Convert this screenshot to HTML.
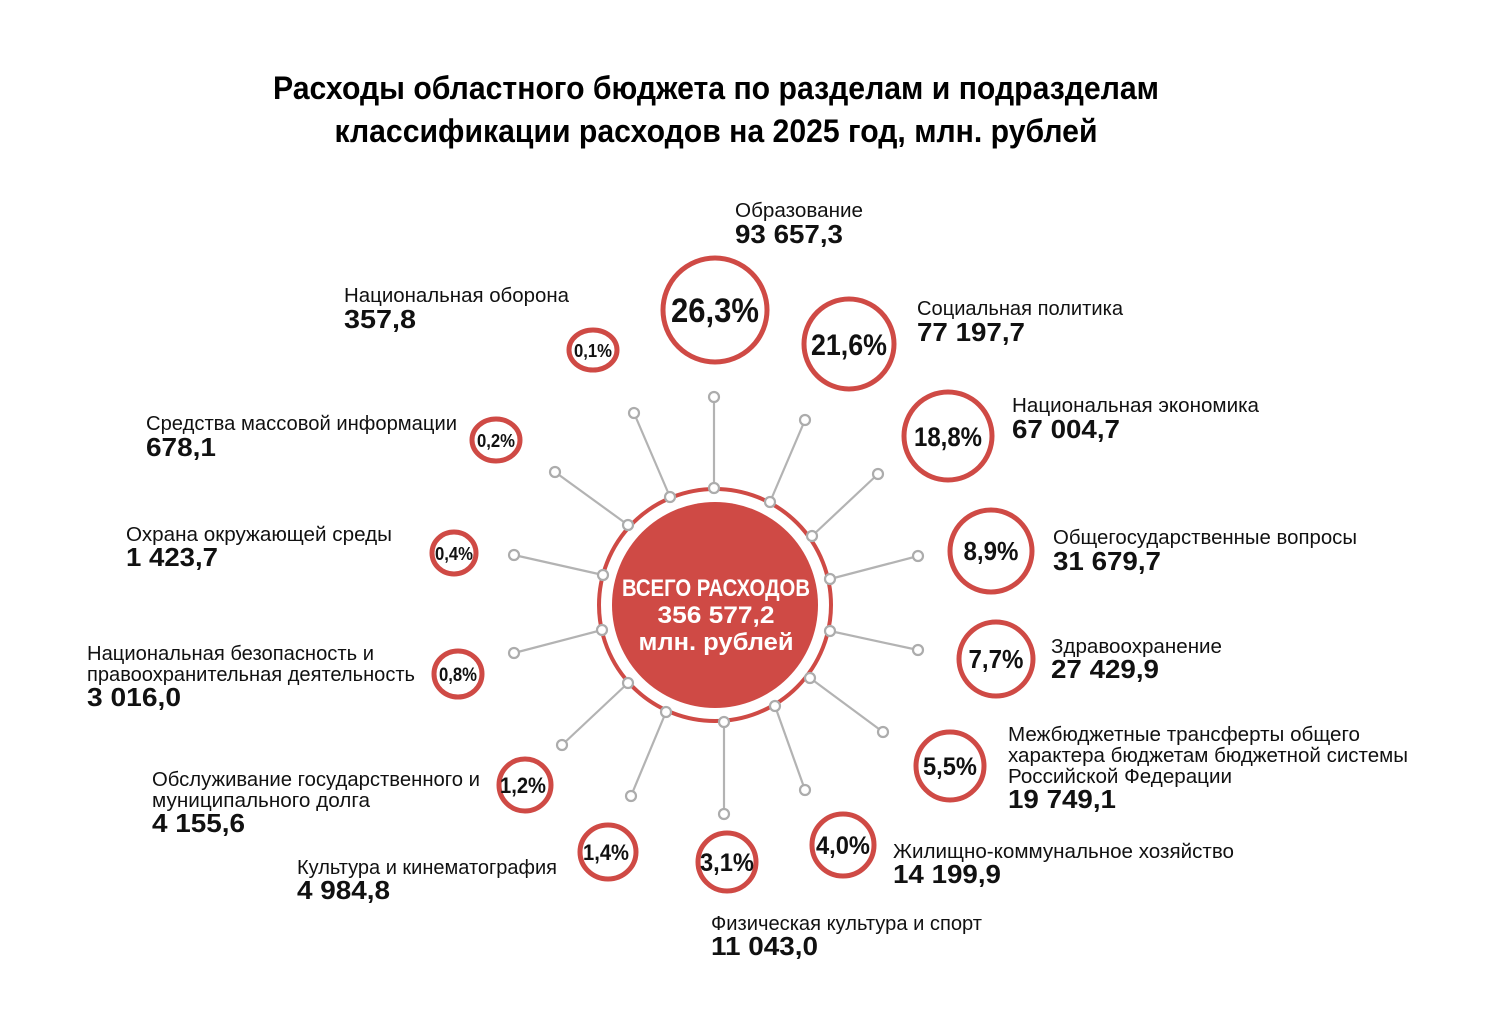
<!DOCTYPE html>
<html><head><meta charset="utf-8"><style>
html,body{margin:0;padding:0;background:#fff;}
svg{display:block;font-family:"Liberation Sans","DejaVu Sans",sans-serif;}
.n{font-size:20px;fill:#111;}
.v{font-size:26px;font-weight:bold;fill:#111;}
.p{font-weight:bold;fill:#111;text-anchor:middle;}
.r{fill:#fff;stroke:#cf4a45;stroke-width:5;}
.l{stroke:#b3b3b3;stroke-width:2.2;}
.d{fill:#fff;stroke:#acacac;stroke-width:2.2;}
</style></head><body>
<svg width="1500" height="1030" viewBox="0 0 1500 1030">
<text x="716" y="99" font-size="32" font-weight="bold" text-anchor="middle" textLength="886" lengthAdjust="spacingAndGlyphs">Расходы областного бюджета по разделам и подразделам</text>
<text x="716" y="142" font-size="32" font-weight="bold" text-anchor="middle" textLength="763" lengthAdjust="spacingAndGlyphs">классификации расходов на 2025 год, млн. рублей</text>

<g>
<line class="l" x1="714" y1="488" x2="714" y2="397"/>
<line class="l" x1="670" y1="497" x2="634" y2="413"/>
<line class="l" x1="628" y1="525" x2="555" y2="472"/>
<line class="l" x1="603" y1="575" x2="514" y2="555"/>
<line class="l" x1="602" y1="630" x2="514" y2="653"/>
<line class="l" x1="628" y1="683" x2="562" y2="745"/>
<line class="l" x1="666" y1="712" x2="631" y2="796"/>
<line class="l" x1="724" y1="722" x2="724" y2="814"/>
<line class="l" x1="775" y1="706" x2="805" y2="790"/>
<line class="l" x1="810" y1="678" x2="883" y2="732"/>
<line class="l" x1="830" y1="631" x2="918" y2="650"/>
<line class="l" x1="830" y1="579" x2="918" y2="556"/>
<line class="l" x1="812" y1="536" x2="878" y2="474"/>
<line class="l" x1="770" y1="502" x2="805" y2="420"/>
</g>
<circle cx="715" cy="605" r="116" fill="#fff" stroke="#cf4a45" stroke-width="4"/>
<circle cx="715" cy="605" r="103" fill="#cf4a45"/>
<g>
<circle class="d" cx="714" cy="488" r="5"/><circle class="d" cx="714" cy="397" r="5"/>
<circle class="d" cx="670" cy="497" r="5"/><circle class="d" cx="634" cy="413" r="5"/>
<circle class="d" cx="628" cy="525" r="5"/><circle class="d" cx="555" cy="472" r="5"/>
<circle class="d" cx="603" cy="575" r="5"/><circle class="d" cx="514" cy="555" r="5"/>
<circle class="d" cx="602" cy="630" r="5"/><circle class="d" cx="514" cy="653" r="5"/>
<circle class="d" cx="628" cy="683" r="5"/><circle class="d" cx="562" cy="745" r="5"/>
<circle class="d" cx="666" cy="712" r="5"/><circle class="d" cx="631" cy="796" r="5"/>
<circle class="d" cx="724" cy="722" r="5"/><circle class="d" cx="724" cy="814" r="5"/>
<circle class="d" cx="775" cy="706" r="5"/><circle class="d" cx="805" cy="790" r="5"/>
<circle class="d" cx="810" cy="678" r="5"/><circle class="d" cx="883" cy="732" r="5"/>
<circle class="d" cx="830" cy="631" r="5"/><circle class="d" cx="918" cy="650" r="5"/>
<circle class="d" cx="830" cy="579" r="5"/><circle class="d" cx="918" cy="556" r="5"/>
<circle class="d" cx="812" cy="536" r="5"/><circle class="d" cx="878" cy="474" r="5"/>
<circle class="d" cx="770" cy="502" r="5"/><circle class="d" cx="805" cy="420" r="5"/>
</g>
<text x="716" y="596" font-size="24" font-weight="bold" fill="#fff" text-anchor="middle" textLength="188" lengthAdjust="spacingAndGlyphs">ВСЕГО РАСХОДОВ</text>
<text x="716" y="623" font-size="24" font-weight="bold" fill="#fff" text-anchor="middle" textLength="117" lengthAdjust="spacingAndGlyphs">356 577,2</text>
<text x="716" y="650" font-size="24" font-weight="bold" fill="#fff" text-anchor="middle" textLength="155" lengthAdjust="spacingAndGlyphs">млн. рублей</text>

<circle class="r" cx="715" cy="310" r="52"/><text class="p" x="715" y="322" font-size="34" textLength="88" lengthAdjust="spacingAndGlyphs">26,3%</text>
<circle class="r" cx="849" cy="344" r="45"/><text class="p" x="849" y="355" font-size="30" textLength="76" lengthAdjust="spacingAndGlyphs">21,6%</text>
<circle class="r" cx="948" cy="436" r="44"/><text class="p" x="948" y="446" font-size="27" textLength="68" lengthAdjust="spacingAndGlyphs">18,8%</text>
<circle class="r" cx="991" cy="551" r="41"/><text class="p" x="991" y="560" font-size="26" textLength="55" lengthAdjust="spacingAndGlyphs">8,9%</text>
<circle class="r" cx="996" cy="659" r="37"/><text class="p" x="996" y="668" font-size="26" textLength="55" lengthAdjust="spacingAndGlyphs">7,7%</text>
<circle class="r" cx="950" cy="766" r="34"/><text class="p" x="950" y="775" font-size="25" textLength="54" lengthAdjust="spacingAndGlyphs">5,5%</text>
<circle class="r" cx="843" cy="845" r="31"/><text class="p" x="843" y="854" font-size="25" textLength="54" lengthAdjust="spacingAndGlyphs">4,0%</text>
<circle class="r" cx="727" cy="862" r="29"/><text class="p" x="727" y="871" font-size="25" textLength="54" lengthAdjust="spacingAndGlyphs">3,1%</text>
<ellipse class="r" cx="608" cy="852" rx="28" ry="27"/><text class="p" x="606" y="860" font-size="22" textLength="46" lengthAdjust="spacingAndGlyphs">1,4%</text>
<ellipse class="r" cx="525" cy="785" rx="26" ry="26"/><text class="p" x="523" y="793" font-size="22" textLength="46" lengthAdjust="spacingAndGlyphs">1,2%</text>
<ellipse class="r" cx="458" cy="674" rx="24" ry="23"/><text class="p" x="458" y="681" font-size="19" textLength="38" lengthAdjust="spacingAndGlyphs">0,8%</text>
<ellipse class="r" cx="454" cy="553" rx="22" ry="21"/><text class="p" x="454" y="560" font-size="18" textLength="38" lengthAdjust="spacingAndGlyphs">0,4%</text>
<ellipse class="r" cx="496" cy="440" rx="24" ry="21"/><text class="p" x="496" y="447" font-size="18" textLength="38" lengthAdjust="spacingAndGlyphs">0,2%</text>
<ellipse class="r" cx="593" cy="350" rx="24" ry="20"/><text class="p" x="593" y="357" font-size="18" textLength="38" lengthAdjust="spacingAndGlyphs">0,1%</text>

<g lengthAdjust="spacingAndGlyphs">
<text class="n" x="735" y="217" textLength="128" lengthAdjust="spacingAndGlyphs">Образование</text>
<text class="v" x="735" y="243" textLength="108" lengthAdjust="spacingAndGlyphs">93 657,3</text>
<text class="n" x="344" y="302" textLength="225" lengthAdjust="spacingAndGlyphs">Национальная оборона</text>
<text class="v" x="344" y="328" textLength="72" lengthAdjust="spacingAndGlyphs">357,8</text>
<text class="n" x="917" y="315" textLength="206" lengthAdjust="spacingAndGlyphs">Социальная политика</text>
<text class="v" x="917" y="341" textLength="108" lengthAdjust="spacingAndGlyphs">77 197,7</text>
<text class="n" x="1012" y="412" textLength="247" lengthAdjust="spacingAndGlyphs">Национальная экономика</text>
<text class="v" x="1012" y="438" textLength="108" lengthAdjust="spacingAndGlyphs">67 004,7</text>
<text class="n" x="146" y="430" textLength="311" lengthAdjust="spacingAndGlyphs">Средства массовой информации</text>
<text class="v" x="146" y="456" textLength="70" lengthAdjust="spacingAndGlyphs">678,1</text>
<text class="n" x="1053" y="544" textLength="304" lengthAdjust="spacingAndGlyphs">Общегосударственные вопросы</text>
<text class="v" x="1053" y="570" textLength="108" lengthAdjust="spacingAndGlyphs">31 679,7</text>
<text class="n" x="126" y="541" textLength="266" lengthAdjust="spacingAndGlyphs">Охрана окружающей среды</text>
<text class="v" x="126" y="566" textLength="92" lengthAdjust="spacingAndGlyphs">1 423,7</text>
<text class="n" x="1051" y="653" textLength="171" lengthAdjust="spacingAndGlyphs">Здравоохранение</text>
<text class="v" x="1051" y="678" textLength="108" lengthAdjust="spacingAndGlyphs">27 429,9</text>
<text class="n" x="87" y="660" textLength="287" lengthAdjust="spacingAndGlyphs">Национальная безопасность и</text>
<text class="n" x="87" y="681" textLength="328" lengthAdjust="spacingAndGlyphs">правоохранительная деятельность</text>
<text class="v" x="87" y="706" textLength="94" lengthAdjust="spacingAndGlyphs">3 016,0</text>
<text class="n" x="1008" y="741" textLength="352" lengthAdjust="spacingAndGlyphs">Межбюджетные трансферты общего</text>
<text class="n" x="1008" y="762" textLength="400" lengthAdjust="spacingAndGlyphs">характера бюджетам бюджетной системы</text>
<text class="n" x="1008" y="783" textLength="224" lengthAdjust="spacingAndGlyphs">Российской Федерации</text>
<text class="v" x="1008" y="808" textLength="108" lengthAdjust="spacingAndGlyphs">19 749,1</text>
<text class="n" x="152" y="786" textLength="328" lengthAdjust="spacingAndGlyphs">Обслуживание государственного и</text>
<text class="n" x="152" y="807" textLength="218" lengthAdjust="spacingAndGlyphs">муниципального долга</text>
<text class="v" x="152" y="832" textLength="93" lengthAdjust="spacingAndGlyphs">4 155,6</text>
<text class="n" x="297" y="874" textLength="260" lengthAdjust="spacingAndGlyphs">Культура и кинематография</text>
<text class="v" x="297" y="899" textLength="93" lengthAdjust="spacingAndGlyphs">4 984,8</text>
<text class="n" x="893" y="858" textLength="341" lengthAdjust="spacingAndGlyphs">Жилищно-коммунальное хозяйство</text>
<text class="v" x="893" y="883" textLength="108" lengthAdjust="spacingAndGlyphs">14 199,9</text>
<text class="n" x="711" y="930" textLength="271" lengthAdjust="spacingAndGlyphs">Физическая культура и спорт</text>
<text class="v" x="711" y="955" textLength="107" lengthAdjust="spacingAndGlyphs">11 043,0</text>
</g>
</svg>
</body></html>
